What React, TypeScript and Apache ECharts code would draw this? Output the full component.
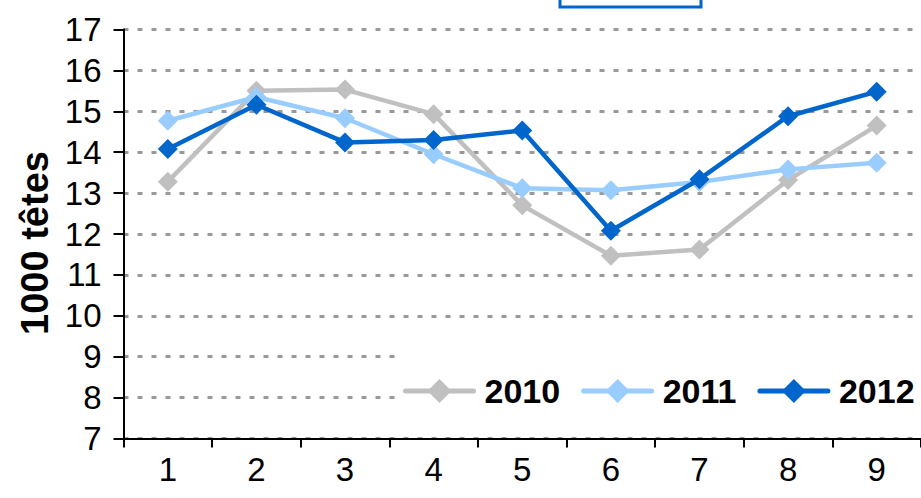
import React, { useEffect, useRef } from "react";
import * as echarts from "echarts";

const categories = ["1", "2", "3", "4", "5", "6", "7", "8", "9"];
const seriesNames = ["2010", "2011", "2012"];
const values2010 = [13.28, 15.5, 15.53, 14.93, 12.7, 11.47, 11.62, 13.32, 14.65];
const values2011 = [14.77, 15.35, 14.83, 13.95, 13.12, 13.07, 13.27, 13.58, 13.74];
const values2012 = [14.08, 15.16, 14.24, 14.3, 14.53, 12.08, 13.34, 14.88, 15.48];
const seriesColors = ["#C0C0C0", "#99CCFF", "#0066CC"];
const yTitle = "1000 têtes";

const FONT = "'Liberation Sans', Arial, sans-serif";

export default function App() {
  const ref = useRef<HTMLDivElement>(null);
  useEffect(() => {
    if (!ref.current) return;
    const chart = echarts.init(ref.current, undefined, { renderer: "svg" });
    const allValues = [values2010, values2011, values2012];
    chart.setOption({
      animation: false,
      backgroundColor: "#ffffff",
      textStyle: { fontFamily: FONT },
      grid: { left: 123.5, right: 0, top: 29.5, bottom: 59.5, containLabel: false },
      xAxis: {
        type: "category",
        data: categories,
        boundaryGap: true,
        axisLine: { lineStyle: { color: "#000", width: 2 } },
        axisTick: { show: true, length: 9, lineStyle: { color: "#000", width: 2 } },
        axisLabel: { color: "#000", fontSize: 33, fontFamily: FONT, margin: 14 },
        splitLine: { show: false },
      },
      yAxis: {
        type: "value",
        min: 7,
        max: 17,
        interval: 1,
        name: yTitle,
        nameLocation: "middle",
        nameRotate: 90,
        nameGap: 66,
        nameTextStyle: {
          color: "#000",
          fontSize: 38,
          fontWeight: "bold",
          fontFamily: FONT,
          padding: [0, 18, 0, 0],
        },
        axisLine: { show: true, lineStyle: { color: "#000", width: 2 } },
        axisTick: { show: true, length: 10, lineStyle: { color: "#000", width: 2 } },
        axisLabel: { color: "#000", fontSize: 33, fontFamily: FONT, margin: 22 },
        splitLine: { show: true, lineStyle: { color: "#999999", width: 3, type: [5, 9] } },
      },
      legend: {
        data: seriesNames,
        left: 395,
        top: 351,
        width: 600,
        padding: [20, 8, 8, 8],
        backgroundColor: "#ffffff",
        itemWidth: 68,
        itemHeight: 30,
        itemGap: 21,
        lineStyle: { width: 5, cap: "round" },
        textStyle: {
          color: "#000",
          fontSize: 34,
          fontWeight: "bold",
          fontFamily: FONT,
          lineHeight: 40,
          padding: [0, 0, 0, 6],
        },
      },
      series: seriesNames.map((name, i) => ({
        name,
        type: "line",
        data: allValues[i],
        symbol: "diamond",
        symbolSize: 20,
        color: seriesColors[i],
        lineStyle: { color: seriesColors[i], width: 4.5 },
        itemStyle: { color: seriesColors[i] },
        z: 2 + i,
      })),
      graphic: [
        {
          type: "rect",
          shape: { x: 560, y: -20, width: 141, height: 27 },
          style: { fill: "#ffffff", stroke: "#0066CC", lineWidth: 3 },
          z: 10,
        },
      ],
    });
    return () => chart.dispose();
  }, []);
  return (
    <div
      ref={ref}
      style={{ position: "fixed", left: 0, top: 0, width: 921, height: 498 }}
    />
  );
}
